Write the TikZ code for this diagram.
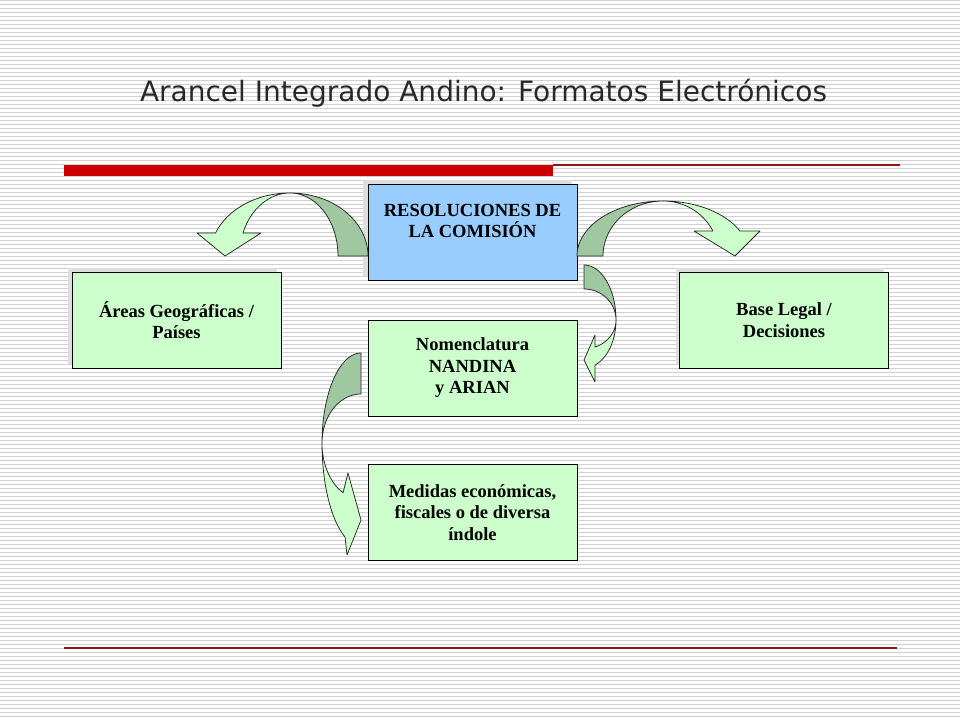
\documentclass[tikz,border=0pt]{standalone}
\usepackage{fontspec}
\setmainfont{Liberation Serif}
\newfontfamily\titlefont{DejaVu Sans}
\definecolor{stripegray}{RGB}{208,208,208}
\definecolor{shadowgray}{RGB}{222,222,222}
\definecolor{barred}{RGB}{204,0,0}
\definecolor{linered}{RGB}{150,20,20}
\definecolor{boxgreen}{RGB}{204,255,204}
\definecolor{boxblue}{RGB}{153,204,255}
\definecolor{darkribbon}{RGB}{160,200,160}
\definecolor{titlegray}{RGB}{40,40,40}
\tikzset{
  stripe/.style={draw=stripegray, line width=1.3pt},
  boxbase/.style={draw=black, line width=0.9pt, minimum width=209pt, minimum height=96pt, inner sep=0pt},
  greenbox/.style={boxbase, fill=boxgreen, align=center, font=\bfseries\fontsize{18.5}{21.5}\selectfont},
  bluebox/.style={boxbase, fill=boxblue},
  boxtext/.style={align=center, font=\bfseries\fontsize{18.5}{20.5}\selectfont, inner sep=0pt},
  shadowbox/.style={fill=shadowgray},
  frontribbon/.style={fill=boxgreen, draw=black!85, line width=0.75pt, line join=round},
  backribbon/.style={fill=darkribbon, draw=black!85, line width=0.75pt, line join=round},
}
\begin{document}
\begin{tikzpicture}[x=1pt,y=-1pt]
\useasboundingbox (0,0) rectangle (960,720);
\fill[white] (0,0) rectangle (960,720);
\foreach \k in {0,...,179} { \draw[stripe] (0,4*\k+0.7) -- (960,4*\k+0.7); }

% title
\node[anchor=base, text=titlegray, font=\titlefont\fontsize{28}{32}\selectfont, inner sep=0pt] (title) at (483.5,101) {Arancel Integrado Andino: Formatos Electrónicos};

% red rules
\fill[barred] (64,165) rectangle (553,176);
\draw[linered, line width=1.3pt] (553,165) -- (900,165);
\draw[linered, line width=1.3pt] (64,648) -- (897,648);

% shadows
\fill[shadowbox] (363,180) rectangle (572,276);
\fill[shadowbox] (68,268) rectangle (277,364);
\fill[shadowbox] (676,268) rectangle (884,364);

% boxes
\node[bluebox] (res) at (472.5,232) {};
\node[boxtext] (restext) at (472.5,221) {RESOLUCIONES DE\\LA COMISIÓN};
\node[greenbox] (areas) at (176.5,320) {Áreas Geográficas /\\Países};
\node[greenbox] (base) at (784,320) {Base Legal /\\Decisiones};
\node[greenbox] (nom) at (472.5,368) {Nomenclatura\\NANDINA\\y ARIAN};
\node[greenbox] (med) at (472.5,512.5) {Medidas económicas,\\fiscales o de diversa\\índole};

% left top curved arrow
\path[backribbon] plot[domain=90:0,samples=30] ({290+78*cos(\x)},{256-63*sin(\x)})
  -- (338,256) -- plot[domain=0:90,samples=30] ({290+48*cos(\x)},{256-63*sin(\x)}) -- cycle;
\path[frontribbon] plot[domain=90:158.6,samples=30] ({290+80*cos(\x)},{256-63*sin(\x)})
  -- (197,233) -- (225,256) -- (261,233)
  -- plot[domain=158.6:90,samples=30] ({290+50.5*cos(\x)},{256-63*sin(\x)}) -- cycle;

% right top curved arrow
\path[backribbon] plot[domain=180:90,samples=30] ({663+86*cos(\x)},{256-55*sin(\x)})
  -- plot[domain=90:180,samples=30] ({663+60*cos(\x)},{256-55*sin(\x)}) -- cycle;
\path[frontribbon] plot[domain=90:27,samples=30] ({663+86.4*cos(\x)},{256-55*sin(\x)})
  -- (760,231) -- (735,256) -- (694,231)
  -- plot[domain=27:90,samples=30] ({663+56*cos(\x)},{256-55*sin(\x)}) -- cycle;

% small right curved arrow (points left)
\path[backribbon] (584,289) -- plot[domain=90:0,samples=30] ({584+32*cos(\x)},{320-55*sin(\x)})
  -- plot[domain=0:90,samples=30] ({584+32*cos(\x)},{320-31*sin(\x)}) -- cycle;
\path[frontribbon] plot[domain=0:-69.9,samples=30] ({584+32*cos(\x)},{320-48*sin(\x)})
  -- (595,382) -- (584,360) -- (595,335)
  -- plot[domain=-69.9:0,samples=30] ({584+32*cos(\x)},{320-28.8*sin(\x)}) -- cycle;

% long left curved arrow (points right)
\path[backribbon] (361,394) -- (361,353) -- plot[domain=90:180,samples=30] ({361+39*cos(\x)},{443-90*sin(\x)})
  -- plot[domain=180:90,samples=30] ({361+39*cos(\x)},{443-49*sin(\x)}) -- cycle;
\path[frontribbon] plot[domain=180:245.8,samples=30] ({361+39*cos(\x)},{443-103*sin(\x)})
  -- (347,555) -- (361,520) -- (348,473)
  -- plot[domain=242.6:180,samples=30] ({361+39*cos(\x)},{443-56*sin(\x)}) -- cycle;
\end{tikzpicture}
\end{document}
